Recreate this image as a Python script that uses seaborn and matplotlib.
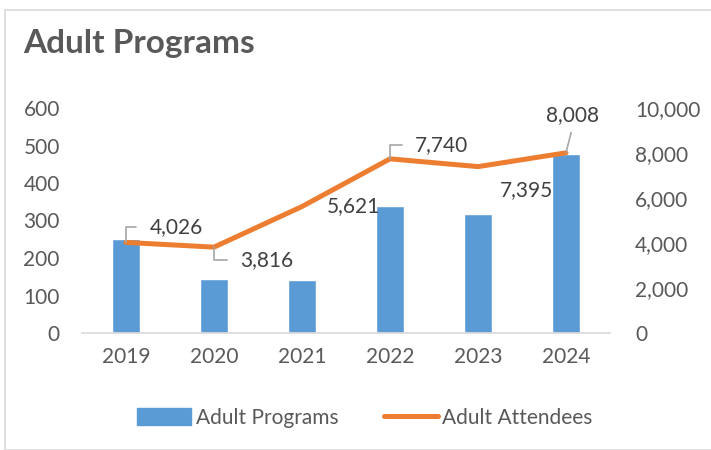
import numpy as np
import pandas as pd
import matplotlib.pyplot as plt
import seaborn as sns
from matplotlib.patches import Rectangle
from matplotlib.lines import Line2D
from matplotlib.patches import Patch

years = ["2019", "2020", "2021", "2022", "2023", "2024"]
programs = [251, 144, 141, 340, 317, 477]
attendees = [4026, 3816, 5621, 7740, 7395, 8008]
label_offsets = [(36, 11), (38, -9), (37, 0), (37, 10), (35, -17), (5, 27)]
leaders = ["side", "side", None, "side", None, "up"]

df = pd.DataFrame({"year": years, "programs": programs, "attendees": attendees})

sns.set_style("white")
plt.rcParams["font.family"] = ["Lato", "DejaVu Sans"]

blue = "#5B9BD5"
orange = "#ED7D31"
tick_c = "#595959"
text_c = "#404040"

fig = plt.figure(figsize=(7.11, 4.5), dpi=100)
ax = fig.add_axes([82 / 711, 1 - 333 / 450, 528 / 711, 225 / 450])

sns.barplot(data=df, x="year", y="programs", color=blue, width=0.32,
            saturation=1, ax=ax)
ax.set_ylim(0, 600)
ax.set_xlim(-0.5, 5.5)
ax.set_yticks(range(0, 601, 100))
ax.set_xlabel("")
ax.set_ylabel("")
ax.tick_params(axis="both", colors=tick_c, labelsize=15, length=0)
ax.tick_params(axis="x", pad=10)
ax.tick_params(axis="y", pad=16)
for s in ["top", "right", "left"]:
    ax.spines[s].set_visible(False)
ax.spines["bottom"].set_color("#d9d9d9")
ax.spines["bottom"].set_linewidth(1.2)

ax2 = ax.twinx()
xs = np.arange(len(years))
sns.lineplot(x=xs, y=df["attendees"], color=orange, linewidth=3.6, ax=ax2)
ax2.set_ylim(0, 10000)
ax2.set_yticks(range(0, 10001, 2000))
ax2.set_yticklabels([f"{v:,}" for v in range(0, 10001, 2000)])
ax2.set_ylabel("")
ax2.tick_params(axis="y", colors=tick_c, labelsize=15, length=0, pad=18)
for s in ["top", "right", "left", "bottom"]:
    ax2.spines[s].set_visible(False)

for x, v, off, lead in zip(xs, attendees, label_offsets, leaders):
    kw = {}
    if lead == "side":
        kw["arrowprops"] = dict(arrowstyle="-", color="#a6a6a6", lw=1.2,
                                relpos=(0, 0.5), shrinkA=7, shrinkB=0,
                                connectionstyle="angle,angleA=0,angleB=90,rad=0")
    elif lead == "up":
        kw["arrowprops"] = dict(arrowstyle="-", color="#a6a6a6", lw=1.2,
                                relpos=(0.5, 0), shrinkA=3, shrinkB=0)
    ax2.annotate(f"{v:,}", xy=(x, v), xytext=off, textcoords="offset points",
                 ha="center", va="center", fontsize=15, color=text_c, **kw)

fig.text(23 / 711, 1 - 44 / 450, "Adult Programs", fontsize=24, fontweight="bold",
         color=tick_c, va="center", ha="left")

handles = [Patch(color=blue), Line2D([0], [0], color=orange, lw=3.6, solid_capstyle="round")]
fig.legend(handles, ["Adult Programs", "Adult Attendees"], loc="center",
           bbox_to_anchor=(365 / 711, 1 - 418 / 450), ncol=2, frameon=False,
           fontsize=15, labelcolor=tick_c, handlelength=2.6, handleheight=0.9,
           handletextpad=0.2, columnspacing=2.2)

fig.patches.append(Rectangle((5 / 711, 0), 1, 1 - 10 / 450, transform=fig.transFigure,
                             fill=False, edgecolor="#d9d9d9", lw=1.2))

fig.savefig("out.png", dpi=100)
